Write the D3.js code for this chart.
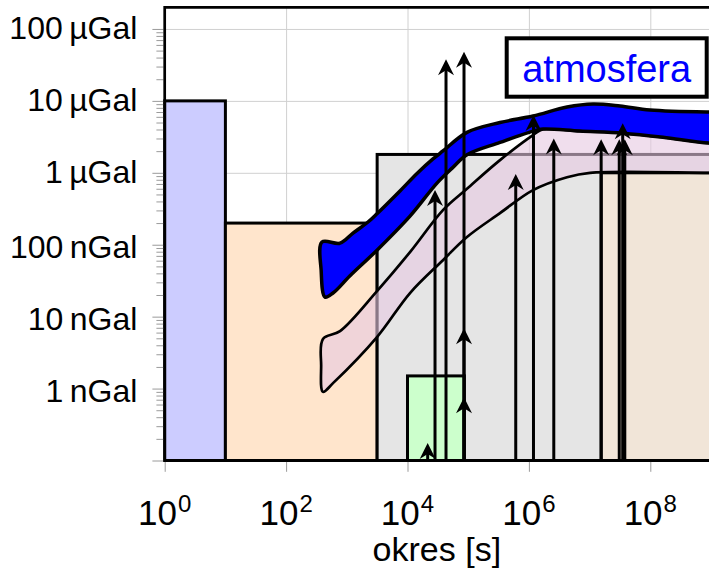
<!DOCTYPE html>
<html>
<head>
<meta charset="utf-8">
<script src="https://cdn.jsdelivr.net/npm/d3@7"></script>
<style>
  html, body { margin: 0; padding: 0; background: #fff; }
  svg { display: block; font-family: "Liberation Sans", Arial, sans-serif; }
</style>
</head>
<body>
<svg id="chart" width="709" height="568"></svg>
<script>
// Amplitude of gravity signals (nGal) versus period (s)

// axis ticks
const yTickValues = [0.1, 1, 10, 100, 1e3, 1e4, 1e5];
const yTickLabels = ["", "1\u2009nGal", "10\u2009nGal", "100\u2009nGal", "1\u2009\u00b5Gal", "10\u2009\u00b5Gal", "100\u2009\u00b5Gal"];
const xTickValues = [1, 1e2, 1e4, 1e6, 1e8];
const xTickExponents = ["0", "2", "4", "6", "8"];
const xGridValues = [1e2, 1e4, 1e6, 1e8];

// rectangular ranges: [period from, period to, amplitude top (nGal)]
const boxBlue   = [1, 10, 1e4];
const boxOrange = [10, 3162, 200];
const boxGray   = [3162, 3e9, 1800];
const boxGreen  = [1e4, 8.64e4, 1.5];
const boxTan    = [1.55e7, 3e9, 1000];

// atmosphere band outline: [period, nGal]
const atmUpper = [[390,109],[773,105],[1265,145],[2235,207],[3145,270],[7520,560],[14350,980],
  [26300,1560],[38400,2010],[95500,3650],[3.34e5,5000],[1.17e6,6150],[4.25e6,8200],[1.14e7,9030],
  [3.17e7,8470],[9.9e7,7450],[9.3e8,6980],[3e9,6980]];
const atmLower = [[3e9,2590],[9.3e8,2590],[1.62e8,3130],[3.55e7,3560],[6.95e6,3800],[1.71e6,4050],
  [1.17e6,3800],[3.34e5,2640],[95500,1780],[55000,1170],[30600,720],[11000,250],[3145,84],[1130,37],[593,21.3],
  [438,18.7],[378,44]];

// second band outline: [period, nGal]
const bandUpper = [[405,4.9],[773,6.3],[3145,22.7],[11000,79],[38400,303],[95500,600],[3.34e5,1500],
  [1.17e6,3340],[1.71e6,4050],[6.95e6,3800],[3.55e7,3560],[1.62e8,3130],[9.3e8,2590],[3e9,2590]];
const bandLower = [[3e9,1000],[9.3e8,1000],[1.02e7,1000],[4.25e6,869],[1.17e6,575],[3.34e5,275],
  [95500,128],[38400,61],[11000,21.3],[3145,5.2],[593,1.19],[405,0.9],[378,2.1]];

// spectral lines: [period (s), amplitude (nGal)]
const lines = [[21500,0.175],[28400,575],[43100,37800],[85300,48200],[85300,6.9],[85300,0.76],
  [6.07e5,961],[1.19e6,6350],[2.57e6,3010],[1.55e7,2920],[3.08e7,2920],[3.51e7,4870],[3.8e7,2920]];

const legendText = "atmosfera";
const xTitle = "okres [s]";

const svg = d3.select("#chart");
const plotL = 164.7, plotR = 711, plotT = 7.3, plotB = 460.5;

const x = d3.scaleLog().domain([1, 1e9]).range([plotL, plotR]);
const y = d3.scaleLog().domain([0.1, 2e5]).range([plotB, plotT]);

// grid
svg.append("g")
  .attr("transform", `translate(0,${plotB})`)
  .call(d3.axisBottom(x).tickValues(xGridValues).tickSize(-(plotB - plotT)).tickFormat(""))
  .call(g => g.select(".domain").remove())
  .call(g => g.selectAll("line").attr("stroke", "#d0d0d0").attr("stroke-width", 1));
svg.append("g")
  .attr("transform", `translate(${plotL},0)`)
  .call(d3.axisLeft(y).tickValues(yTickValues.slice(1)).tickSize(-(plotR - plotL)).tickFormat(""))
  .call(g => g.select(".domain").remove())
  .call(g => g.selectAll("line").attr("stroke", "#d0d0d0").attr("stroke-width", 1));

// boxes
function box(b, fill) {
  svg.append("rect")
    .attr("x", x(b[0])).attr("y", y(b[2]))
    .attr("width", x(b[1]) - x(b[0])).attr("height", y(0.1) - y(b[2]))
    .attr("fill", fill).attr("stroke", "#000").attr("stroke-width", 3);
}
box(boxBlue, "#ccccff");
box(boxOrange, "#ffe5cc");
box(boxGray, "#e5e5e5");
box(boxTan, "#f1e5d8");
box(boxGreen, "#ccffcc");

const closed = d3.line().x(d => x(d[0])).y(d => y(d[1])).curve(d3.curveCatmullRomClosed.alpha(0.5));

svg.append("path")
  .attr("d", closed(bandUpper.concat(bandLower)))
  .attr("fill", "rgb(230,200,225)").attr("fill-opacity", 0.6)
  .attr("stroke", "#000").attr("stroke-width", 2.7);

svg.append("path")
  .attr("d", closed(atmUpper.concat(atmLower)))
  .attr("fill", "#0000ff")
  .attr("stroke", "#000").attr("stroke-width", 3.5);

// spectral lines with arrow heads
const gL = svg.append("g");
lines.forEach(([p, a]) => {
  const px = x(p), py = y(a);
  gL.append("line").attr("x1", px).attr("x2", px).attr("y1", y(0.1)).attr("y2", py + 8)
    .attr("stroke", "#000").attr("stroke-width", 3);
  gL.append("path")
    .attr("d", `M${px},${py} L${px + 8},${py + 16} L${px},${py + 11} L${px - 8},${py + 16} Z`)
    .attr("fill", "#000");
});

// y axis
const yAxis = svg.append("g")
  .attr("transform", `translate(${plotL - 1.3},0)`)
  .call(d3.axisLeft(y).tickValues(yTickValues).tickSize(11).tickFormat((d, i) => yTickLabels[i]));
yAxis.select(".domain").remove();
yAxis.selectAll("line").attr("stroke", "#9a9a9a").attr("stroke-width", 1);
yAxis.selectAll("text")
  .attr("x", -26).attr("dy", null)
  .attr("y", d => yTickLabels[yTickValues.indexOf(d)].includes("\u00b5") ? 9.5 : 13)
  .attr("fill", "#000").attr("font-size", 32).attr("font-family", "Liberation Sans, Arial, sans-serif");

const minorY = [];
for (let e = -1; e < 5; e++) for (let m = 2; m <= 9; m++) minorY.push(m * Math.pow(10, e));
const yMinor = svg.append("g")
  .attr("transform", `translate(${plotL - 1.3},0)`)
  .call(d3.axisLeft(y).tickValues(minorY).tickSize(7).tickFormat(""));
yMinor.select(".domain").remove();
yMinor.selectAll("line").attr("stroke", "#9a9a9a").attr("stroke-width", 1);

// x axis
const xAxis = svg.append("g")
  .attr("transform", `translate(0,${plotB + 1.3})`)
  .call(d3.axisBottom(x).tickValues(xTickValues).tickSize(10).tickFormat(""));
xAxis.select(".domain").remove();
xAxis.selectAll("line").attr("stroke", "#9a9a9a").attr("stroke-width", 1);
xTickValues.forEach((v, i) => {
  const t = svg.append("text").attr("x", x(v)).attr("y", 525)
    .attr("text-anchor", "middle").attr("font-size", 35).attr("fill", "#000");
  t.append("tspan").text("10");
  t.append("tspan").attr("dy", -13).attr("dx", 1).attr("font-size", 24).text(xTickExponents[i]);
});
svg.append("text").attr("x", (plotL + 709) / 2).attr("y", 561)
  .attr("text-anchor", "middle").attr("font-size", 34).attr("fill", "#000").text(xTitle);

// frame
svg.append("path")
  .attr("d", `M${plotR},${plotT} L${plotL},${plotT} L${plotL},${plotB} L${plotR},${plotB}`)
  .attr("fill", "none").attr("stroke", "#000").attr("stroke-width", 2.7);

// legend
svg.append("rect").attr("x", 506.7).attr("y", 38.3).attr("width", 200).attr("height", 58.4)
  .attr("fill", "#fff").attr("stroke", "#000").attr("stroke-width", 4);
svg.append("text").attr("x", 606.7).attr("y", 82).attr("text-anchor", "middle")
  .attr("font-size", 38).attr("fill", "#0000ff").text(legendText);
</script>
</body>
</html>
